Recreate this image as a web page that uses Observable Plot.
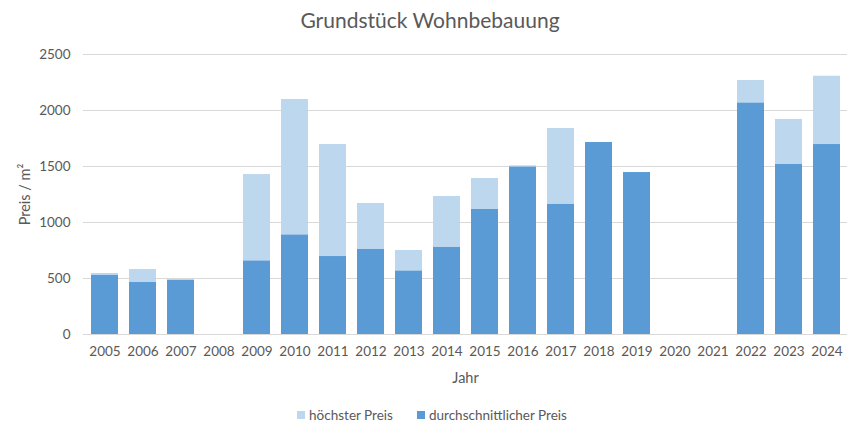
<!DOCTYPE html>
<html><head><meta charset="utf-8">
<script src="https://cdn.jsdelivr.net/npm/d3@7"></script>
<script src="https://cdn.jsdelivr.net/npm/@observablehq/plot@0.6"></script>
<style>
body{margin:0;background:#fff;font-family:Lato,"Open Sans",sans-serif;color:#595959;}
#title{height:38px;line-height:40px;text-align:center;font-size:21px;width:860px;}
#legend{height:33px;display:flex;justify-content:center;align-items:center;gap:24px;font-size:13.5px;width:860px;padding-left:4px;box-sizing:border-box;}
.sw{display:inline-block;width:8px;height:8px;margin-right:4px;vertical-align:middle;}
.item{display:flex;align-items:center;}
</style></head>
<body>
<div id="title">Grundstück Wohnbebauung</div>
<div id="chart"></div>
<div id="legend"></div>
<script>
const years = ["2005","2006","2007","2008","2009","2010","2011","2012","2013","2014","2015","2016","2017","2018","2019","2020","2021","2022","2023","2024"];
const maxPrice = [545,580,485,null,1428,2098,1696,1170,750,1232,1393,1506,1839,1714,1446,null,null,2268,1920,2306];
const avgPrice = [527,464,485,null,655,887,696,759,565,777,1116,1494,1161,1714,1446,null,null,2065,1518,1696];
const seriesNames = ["höchster Preis","durchschnittlicher Preis"];
const colors = ["#bdd7ee","#5b9bd5"];
const yTicks = [0,500,1000,1500,2000,2500];
const yTitle = "Preis / m²";
const xTitle = "Jahr";

const maxData = years.map((y,i)=>({year:y,value:maxPrice[i]})).filter(d=>d.value!=null);
const avgData = years.map((y,i)=>({year:y,value:avgPrice[i]})).filter(d=>d.value!=null);

const chart = Plot.plot({
  width:860, height:360,
  marginTop:16, marginBottom:64, marginLeft:83, marginRight:13,
  style:{fontFamily:"Lato, 'Open Sans', sans-serif", fontSize:"13.5px", color:"#595959"},
  x:{domain:years, paddingInner:0.29, paddingOuter:0.145, label:null},
  y:{domain:[0,2500], label:null},
  marks:[
    Plot.gridY(yTicks,{stroke:"#d9d9d9", strokeOpacity:1}),
    Plot.axisY(yTicks,{tickSize:0, tickPadding:13, tickFormat:d3.format("d"), label:null, fill:"#595959", fontSize:13.5}),
    Plot.axisX({tickSize:0, tickPadding:12, label:null, fill:"#595959", fontSize:13.5}),
    Plot.text([yTitle],{frameAnchor:"left", textAnchor:"middle", dx:-58, rotate:-90, fontSize:14.5, fill:"#595959"}),
    Plot.text([xTitle],{frameAnchor:"bottom", dy:48, fontSize:14.5, fill:"#595959"}),
    Plot.barY(maxData,{x:"year", y:"value", fill:colors[0]}),
    Plot.barY(avgData,{x:"year", y:"value", fill:colors[1]})
  ]
});
document.getElementById("chart").appendChild(chart);

const leg = document.getElementById("legend");
seriesNames.forEach((n,i)=>{
  const it = document.createElement("span"); it.className="item";
  const sw = document.createElement("span"); sw.className="sw"; sw.style.background=colors[i];
  it.appendChild(sw); it.appendChild(document.createTextNode(n));
  leg.appendChild(it);
});
</script>
</body></html>
